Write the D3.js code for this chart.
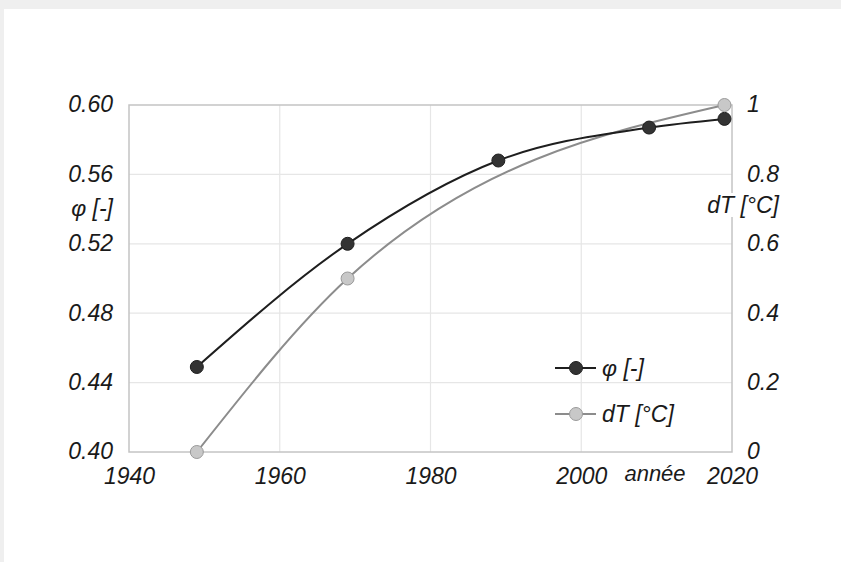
<!DOCTYPE html>
<html>
<head>
<meta charset="utf-8">
<script src="https://cdn.jsdelivr.net/npm/d3@7"></script>
<style>
  html, body { margin: 0; padding: 0; background: #efefef; }
  svg { display: block; }
  text { font-family: "Liberation Sans", Arial, sans-serif; font-style: italic; fill: #1a1a1a; }
</style>
</head>
<body>
<svg id="chart" width="841" height="562"></svg>
<script>
// Year axis
const xTicks = [1940, 1960, 1980, 2000, 2020];

// Series φ [-] (left axis)
const phiYears = [1949, 1969, 1989, 2009, 2019];
const phiValues = [0.449, 0.520, 0.568, 0.587, 0.592];

// Series dT [°C] (right axis)
const dTYears = [1949, 1969, 2019];
const dTValues = [0, 0.5, 1.0];

// Axis ticks
const leftTicks = [0.40, 0.44, 0.48, 0.52, 0.56, 0.60];
const rightTicks = [0, 0.2, 0.4, 0.6, 0.8, 1];

const FS = 23;
const svg = d3.select("#chart");

// white panel
svg.append("rect").attr("x", 4).attr("y", 9).attr("width", 837).attr("height", 553).attr("fill", "#ffffff");

const plot = { left: 129, right: 732, top: 105, bottom: 452 };

const x = d3.scaleLinear().domain([1940, 2020]).range([plot.left, plot.right]);
const yL = d3.scaleLinear().domain([0.40, 0.60]).range([plot.bottom, plot.top]);
const yR = d3.scaleLinear().domain([0, 1]).range([plot.bottom, plot.top]);

// gridlines
const grid = svg.append("g");
grid.selectAll("line.h").data(leftTicks.slice(1, -1)).join("line")
  .attr("x1", plot.left).attr("x2", plot.right)
  .attr("y1", d => yL(d)).attr("y2", d => yL(d))
  .attr("stroke", "#e6e6e6").attr("stroke-width", 1.2);
grid.selectAll("line.v").data(xTicks.slice(1, -1)).join("line")
  .attr("y1", plot.top).attr("y2", plot.bottom)
  .attr("x1", d => x(d)).attr("x2", d => x(d))
  .attr("stroke", "#e6e6e6").attr("stroke-width", 1.2);

// plot frame
svg.append("rect")
  .attr("x", plot.left).attr("y", plot.top)
  .attr("width", plot.right - plot.left).attr("height", plot.bottom - plot.top)
  .attr("fill", "none").attr("stroke", "#c4c4c4").attr("stroke-width", 1.5);

// left axis labels
const leftAxis = d3.axisLeft(yL).tickValues(leftTicks).tickFormat(d3.format(".2f")).tickSize(0).tickPadding(16);
const gL = svg.append("g").attr("transform", `translate(${plot.left},0)`).call(leftAxis);
gL.select(".domain").remove();
gL.selectAll("text").attr("font-size", FS).attr("font-family", null).attr("dy", "0.3em");

// right axis labels
const rightAxis = d3.axisRight(yR).tickValues(rightTicks).tickFormat(d => d3.format("")(d)).tickSize(0).tickPadding(15);
const gR = svg.append("g").attr("transform", `translate(${plot.right},0)`).call(rightAxis);
gR.select(".domain").remove();
gR.selectAll("text").attr("font-size", FS).attr("font-family", null).attr("dy", "0.3em");

// bottom axis labels
const bottomAxis = d3.axisBottom(x).tickValues(xTicks).tickFormat(d3.format("d")).tickSize(0).tickPadding(16);
const gB = svg.append("g").attr("transform", `translate(0,${plot.bottom})`).call(bottomAxis);
gB.select(".domain").remove();
gB.selectAll("text").attr("font-size", FS).attr("font-family", null);

// axis titles
svg.append("text").attr("x", 113).attr("y", 216).attr("text-anchor", "end").attr("font-size", FS).text("φ [-]");
const dtGroup = svg.append("g");
const dtBg = dtGroup.append("rect").attr("fill", "#ffffff");
const dtTitle = dtGroup.append("text").attr("x", 779).attr("y", 213).attr("text-anchor", "end").attr("font-size", FS).text("dT [°C]");
const bb = dtTitle.node().getBBox();
dtBg.attr("x", bb.x - 2).attr("y", bb.y + 1).attr("width", bb.width + 4).attr("height", bb.height - 2);
svg.append("text").attr("x", 655).attr("y", 481).attr("text-anchor", "middle").attr("font-size", 22).text("année");

// series
const curve = d3.curveMonotoneX;
const phiData = phiYears.map((y, i) => [y, phiValues[i]]);
const dTData = dTYears.map((y, i) => [y, dTValues[i]]);

svg.append("path")
  .attr("d", d3.line().x(d => x(d[0])).y(d => yR(d[1])).curve(curve)(dTData))
  .attr("fill", "none").attr("stroke", "#8c8c8c").attr("stroke-width", 2);
svg.append("path")
  .attr("d", d3.line().x(d => x(d[0])).y(d => yL(d[1])).curve(curve)(phiData))
  .attr("fill", "none").attr("stroke", "#1e1e1e").attr("stroke-width", 2);

svg.append("g").selectAll("circle").data(phiData).join("circle")
  .attr("cx", d => x(d[0])).attr("cy", d => yL(d[1])).attr("r", 6.5)
  .attr("fill", "#333333").attr("stroke", "#1e1e1e").attr("stroke-width", 1);
svg.append("g").selectAll("circle").data(dTData).join("circle")
  .attr("cx", d => x(d[0])).attr("cy", d => yR(d[1])).attr("r", 6.5)
  .attr("fill", "#c8c8c8").attr("stroke", "#9a9a9a").attr("stroke-width", 1);

// legend
const legend = [
  { label: "φ [-]", line: "#1e1e1e", fill: "#333333", stroke: "#1e1e1e", y: 368 },
  { label: "dT [°C]", line: "#8c8c8c", fill: "#c8c8c8", stroke: "#9a9a9a", y: 414 }
];
const lg = svg.append("g").selectAll("g").data(legend).join("g");
lg.append("line").attr("x1", 555).attr("x2", 596).attr("y1", d => d.y).attr("y2", d => d.y)
  .attr("stroke", d => d.line).attr("stroke-width", 2);
lg.append("circle").attr("cx", 576).attr("cy", d => d.y).attr("r", 6.5)
  .attr("fill", d => d.fill).attr("stroke", d => d.stroke).attr("stroke-width", 1);
lg.append("text").attr("x", 602).attr("y", d => d.y + 8).attr("font-size", FS).text(d => d.label);
</script>
</body>
</html>
